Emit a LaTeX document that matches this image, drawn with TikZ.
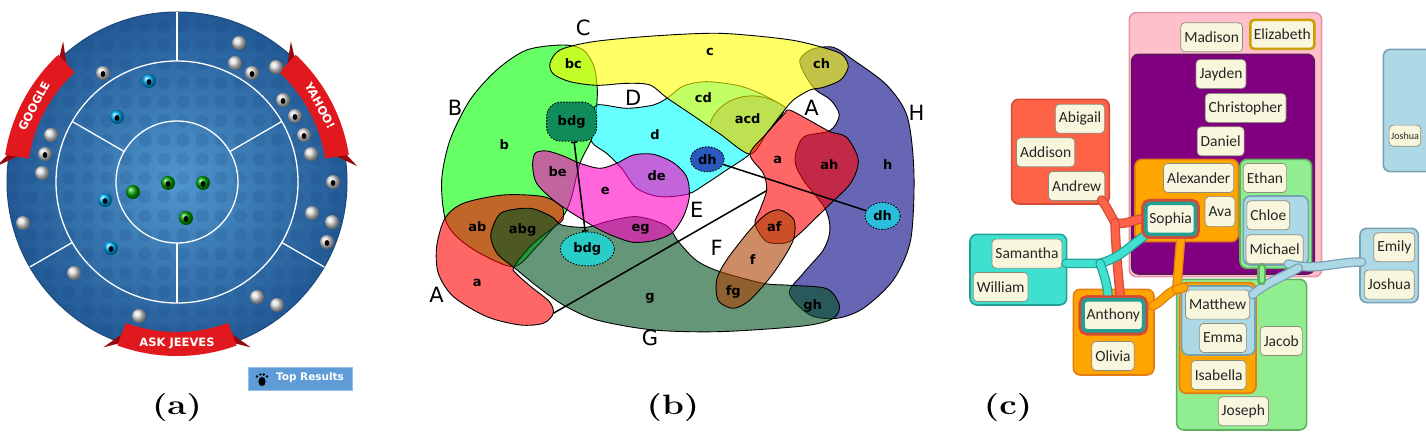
\documentclass[tikz,border=0pt]{standalone}
\usepackage{fontspec}
\setsansfont{DejaVu Sans}
\newfontfamily\namefont{Carlito}
\usetikzlibrary{fit,shapes.geometric,arrows.meta}

% panel (a)
\definecolor{discin}{RGB}{80,150,205}
\definecolor{discout}{RGB}{35,90,150}
\definecolor{discdot}{RGB}{20,70,130}
\definecolor{ribred}{RGB}{225,25,30}
\definecolor{ribdark}{RGB}{150,10,15}
\definecolor{topfill}{RGB}{95,155,215}
\definecolor{topline}{RGB}{150,190,230}
% panel (b)
\definecolor{setA}{RGB}{255,0,0}
\definecolor{setB}{RGB}{0,255,0}
\definecolor{setC}{RGB}{255,255,0}
\definecolor{setD}{RGB}{0,255,255}
\definecolor{setE}{RGB}{255,0,196}
\definecolor{setF}{RGB}{172,63,0}
\definecolor{setG}{RGB}{0,80,30}
\definecolor{setH}{RGB}{0,0,130}
\definecolor{acdunder}{RGB}{92,180,200}
\definecolor{bdgUc}{RGB}{16,140,90}
\definecolor{bdgLc}{RGB}{40,205,200}
\definecolor{dhUc}{RGB}{40,90,190}
\definecolor{dhRc}{RGB}{40,190,220}
% panel (c)
\definecolor{pinkfill}{RGB}{255,192,203}
\definecolor{pinkline}{RGB}{225,150,165}
\definecolor{purplefill}{RGB}{128,0,128}
\definecolor{purpleline}{RGB}{95,20,95}
\definecolor{orangefill}{RGB}{255,165,0}
\definecolor{orangeline}{RGB}{225,125,20}
\definecolor{greenfill}{RGB}{144,238,144}
\definecolor{greenline}{RGB}{95,175,95}
\definecolor{bluefill}{RGB}{173,216,230}
\definecolor{blueline}{RGB}{120,160,180}
\definecolor{redfill}{RGB}{255,99,71}
\definecolor{redline}{RGB}{210,75,55}
\definecolor{tealfill}{RGB}{64,224,208}
\definecolor{tealline}{RGB}{35,160,150}
\definecolor{goldline}{RGB}{200,160,0}
\definecolor{namefill}{RGB}{248,246,220}
\definecolor{nameline}{RGB}{140,140,125}

\tikzset{
  caplabel/.style={font=\fontsize{28}{32}\selectfont\bfseries, xscale=1.25},
  ringline/.style={draw=white, line width=1.3pt},
  ribtext/.style={text=white, font=\sffamily\bfseries\fontsize{11.5}{12}\selectfont, inner sep=0pt},
  setfill/.style={draw=black, line width=0.9pt, fill=#1, fill opacity=0.6},
  setlab/.style={font=\sffamily\fontsize{21}{21}\selectfont, inner sep=0pt},
  reglab/.style={font=\sffamily\bfseries\fontsize{13}{13}\selectfont, inner sep=0pt},
  marker/.style={draw=black, line width=0.9pt, dash pattern=on 1.5pt off 1.5pt, fill=#1,
    font=\sffamily\bfseries\fontsize{13}{13}\selectfont, inner sep=1pt},
  linkline/.style={line width=1.5pt},
  grp/.style={fill=#1fill, draw=#1line, line width=1.6pt, rounded corners=7pt, inner sep=0pt},
  band/.style={draw=#1fill, line width=7pt, line cap=round,
    preaction={draw=#1line, line width=9.5pt, line cap=round}},
  namebox/.style={draw=nameline, fill=namefill, line width=0.7pt, rounded corners=4pt,
    text=black!85, font=\namefont\fontsize{15.5}{15.5}\selectfont,
    inner xsep=3.5pt, inner ysep=0pt, minimum height=29pt},
  ringbox/.style={namebox, draw=tealline, line width=3.5pt, minimum height=31pt,
    preaction={draw=redline, line width=9pt}}
}

\begin{document}
\begin{tikzpicture}[x=1pt,y=-1pt]
\useasboundingbox (0,0) rectangle (1426,438);

% (a) search result rings %
\begin{scope}[shift={(177pt,-182pt)},x=1pt,y=1pt]
  \shade[inner color=discin, outer color=discout] (0,0) circle (170);
  \begin{scope}
    \clip (0,0) circle (168);
    \foreach \i in {-9,...,9}
      \foreach \j in {-9,...,9}
        \fill[discdot, opacity=0.17] (\i*19+6,\j*19+4) circle (6.5);
  \end{scope}
  \draw[discout!80!black, line width=1pt] (0,0) circle (170);
  \draw[ringline] (0,0) circle (121) (0,0) circle (61);
  \foreach \a in {90,210,330} \draw[ringline] (\a:121) -- (\a:170);
  \foreach \a in {30,150,270} \draw[ringline] (\a:61) -- (\a:121);
  % ribbons %
  \foreach \s/\e in {133/171, 9/47, -110/-70} {
    \fill[ribdark] (\s:172) -- ({\s-4}:181) -- ({\s+1}:158) -- cycle;
    \fill[ribdark] (\e:172) -- ({\e+4}:181) -- ({\e-1}:158) -- cycle;
    \fill[ribred] (\s:150) arc[start angle=\s, end angle=\e, radius=150]
      -- (\e:174) arc[start angle=\e, end angle=\s, radius=174] -- cycle;
  }
  \node[ribtext, rotate=62] (google) at (152:162) {GOOGLE};
  \node[ribtext, rotate=-62] (yahoo) at (28:162) {YAHOO!};
  \node[ribtext] (askjeeves) at (-90:161) {ASK JEEVES};
  % balls %
  \foreach \x/\y in {-74/109,-132/28,75/109,106/82,118/66,127/47,156/0,150/-60,
      -126/47,-135/9,-154/-41,-103/-91,-38/-134,62/139,58/119,99/115,134/28,135/-31,155/-40,80/-115,100/-123}
    \shade[ball color=white!75!gray] (\x,\y) circle (7);
  \foreach \x/\y in {-28/101,-60/65,-72/-18,-66/-66}
    \shade[ball color=cyan!70!blue] (\x,\y) circle (7);
  \foreach \x/\y in {-44/-10,-9/-1,26/-1,9/-36}
    \shade[ball color=green!65!black] (\x,\y) circle (7);
  \foreach \x/\y in {-74/109,-132/28,75/109,106/82,118/66,127/47,156/0,150/-60,
      -28/101,-60/65,-72/-18,-66/-66,-9/-1,26/-1,9/-36}
    \fill[black] (\x,\y-1) ellipse (2.4 and 3);
  % top results %
  \node[fill=topfill, draw=topline, line width=0.8pt, minimum width=104pt, minimum height=23pt] (topres) at (123,-197) {};
  \fill[black] (85,-199.5) ellipse (3.6 and 4.6);
  \foreach \k/\h in {-5/-194.5,-1.7/-192.5,1.7/-192.5,5/-194.5} \fill[black] (85+\k,\h) circle (1.3);
  \node[text=white, font=\sffamily\bfseries\fontsize{10.5}{10.5}\selectfont, inner sep=0pt] (toptext) at (133,-196) {Top Results};
\end{scope}

% (b) Euler diagram %
\begin{scope}[shift={(420pt,0pt)},x=0.3333pt,y=-0.3333pt]
  % Sets %
  \draw[setfill=setH] plot[smooth cycle] coordinates {(1185,268) (1150,215) (1140,178) (1175,148) (1240,142) (1300,180) (1400,255) (1462,350) (1482,520) (1472,720) (1420,840) (1330,925) (1250,955) (1170,945) (1108,880) (1150,820) (1210,750) (1230,690) (1215,625) (1150,540) (1125,480) (1150,412) (1230,392) (1258,345) (1232,300)};
  \draw[setfill=setB] plot[smooth cycle] coordinates {(430,135) (490,150) (522,200) (532,270) (528,340) (518,410) (480,490) (455,590) (435,640) (410,672) (350,740) (282,800) (180,760) (110,710) (75,655) (65,540) (90,420) (150,300) (230,210) (320,150)};
  \draw[setfill=setD] plot[smooth cycle] coordinates {(530,315) (620,325) (700,315) (745,292) (790,258) (860,245) (960,258) (1040,290) (1092,330) (1040,400) (990,462) (920,510) (860,550) (805,582) (720,590) (650,565) (605,505) (560,460) (515,425) (522,360)};
  \begin{scope}
    \clip plot[smooth cycle] coordinates {(390,190) (420,150) (520,125) (700,108) (900,100) (1100,118) (1200,140) (1265,163) (1285,200) (1262,240) (1210,262) (1170,270) (1120,300) (1090,335) (1040,400) (990,462) (900,402) (820,347) (740,293) (690,255) (620,250) (530,256) (450,245) (400,222)};
    \fill[acdunder] (870,372) .. controls (890,300) and (1000,250) .. (1100,325) -- (1200,330) -- (1100,560) -- (860,420) -- cycle;
    \draw[line width=0.9pt] (870,372) .. controls (890,300) and (1000,250) .. (1100,325);
  \end{scope}
  \draw[setfill=setC] plot[smooth cycle] coordinates {(390,190) (420,150) (520,125) (700,108) (900,100) (1100,118) (1200,140) (1265,163) (1285,200) (1262,240) (1210,262) (1170,270) (1120,300) (1090,335) (1040,400) (990,462) (900,402) (820,347) (740,293) (690,255) (620,250) (530,256) (450,245) (400,222)};
  \draw[setfill=setA] plot[smooth cycle] coordinates {(75,655) (130,610) (250,585) (370,590) (425,620) (430,650) (420,668) (340,730) (282,800) (290,822) (335,862) (388,905) (400,940) (370,970) (300,975) (200,950) (100,890) (55,820) (50,740)};
  \draw[setfill=setA] plot[smooth cycle] coordinates {(990,462) (1040,400) (1090,345) (1108,330) (1170,362) (1230,395) (1280,412) (1315,480) (1292,550) (1220,622) (1140,700) (1100,728) (1040,725) (1005,672) (1020,630) (1040,570) (1030,520)};
  \draw[setfill=setG] plot[smooth cycle] coordinates {(215,690) (245,638) (330,625) (395,650) (425,675) (500,682) (560,665) (650,650) (740,677) (775,725) (830,782) (900,815) (1030,850) (1110,856) (1220,866) (1258,915) (1240,955) (1150,978) (900,995) (700,990) (530,960) (430,915) (350,858) (285,805) (235,765) (215,725)};
  \draw[setfill=setE] plot[smooth cycle] coordinates {(345,460) (380,453) (430,468) (480,490) (540,505) (590,490) (640,465) (700,463) (760,488) (800,530) (808,590) (790,650) (755,700) (700,722) (640,727) (590,712) (540,690) (470,648) (400,600) (350,550) (338,500)};
  \draw[setfill=setF] plot[smooth cycle] coordinates {(1080,630) (1122,660) (1118,725) (1060,820) (990,900) (940,925) (895,902) (890,840) (920,780) (990,690) (1040,642)};

  % Links %
  \coordinate (aLeft) at (400,940);
  \coordinate (aRight) at (1040,572);
  \draw[linkline] (aLeft) -- (aRight);
  \node[marker=bdgUc, rounded corners=14pt, minimum width=50pt, minimum height=39pt] (bdgU) at (455,365) {bdg};
  \node[marker=bdgLc, ellipse, minimum width=54pt, minimum height=34pt] (bdgL) at (502,747) {bdg};
  \node[marker=dhUc, ellipse, minimum width=34pt, minimum height=25pt] (dhU) at (862,478) {dh};
  \node[marker=dhRc, ellipse, minimum width=35pt, minimum height=27pt] (dhR) at (1388,648) {dh};
  \draw[linkline, {Bar[width=6pt]}-{Bar[width=6pt]}] (bdgU) -- (bdgL);
  \draw[linkline] (dhU) -- (dhR);

  % Region labels %
  \node[reglab] (rbc) at (460,190) {bc};
  \node[reglab] (rc) at (870,155) {c};
  \node[reglab] (rch) at (1205,190) {ch};
  \node[reglab] (rcd) at (850,293) {cd};
  \node[reglab] (racd) at (983,355) {acd};
  \node[reglab] (rb) at (253,435) {b};
  \node[reglab] (rd) at (705,405) {d};
  \node[reglab] (ra1) at (1073,480) {a};
  \node[reglab] (rah) at (1228,495) {ah};
  \node[reglab] (rh) at (1403,495) {h};
  \node[reglab] (rbe) at (413,515) {be};
  \node[reglab] (rde) at (710,528) {de};
  \node[reglab] (re) at (556,572) {e};
  \node[reglab] (rab) at (172,680) {ab};
  \node[reglab] (rabg) at (308,690) {abg};
  \node[reglab] (reg) at (662,688) {eg};
  \node[reglab] (raf) at (1063,680) {af};
  \node[reglab] (rf) at (998,780) {f};
  \node[reglab] (ra2) at (172,848) {a};
  \node[reglab] (rg) at (690,895) {g};
  \node[reglab] (rfg) at (940,875) {fg};
  \node[reglab] (rgh) at (1178,918) {gh};

  % Set names %
  \node[setlab] (nC) at (490,85) {C};
  \node[setlab] (nB) at (105,325) {B};
  \node[setlab] (nD) at (640,295) {D};
  \node[setlab] (nA1) at (1175,325) {A};
  \node[setlab] (nH) at (1490,340) {H};
  \node[setlab] (nE) at (830,630) {E};
  \node[setlab] (nF) at (890,745) {F};
  \node[setlab] (nA2) at (50,885) {A};
  \node[setlab] (nG) at (690,1015) {G};
\end{scope}

% (c) bubble sets %
\begin{scope}[shift={(960pt,0pt)},x=0.3333pt,y=-0.3333pt]
  % Groups %
  \node[grp=pink, fit={(508,38)(1085,830)}] (gPink) {};
  \node[grp=purple, fit={(515,163)(1063,822)}] (gPurple) {};
  \node[grp=orange, fit={(525,478)(835,725)}] (gAlexander) {};
  \node[grp=green, fit={(840,478)(1055,805)}] (gEthan) {};
  \node[grp=blue, fit={(850,588)(1045,795)}] (gChloe) {};
  \node[grp=red, fit={(155,298)(448,612)}] (gAbigail) {};
  \node[grp=teal, fit={(30,703)(320,915)}] (gSamantha) {};
  \node[grp=orange, fit={(340,868)(582,1125)}] (gAnthony) {};
  \node[grp=green, fit={(650,838)(1040,1290)}] (gJacob) {};
  \node[grp=orange, fit={(658,848)(888,1180)}] (gIsabella) {};
  \node[grp=blue, fit={(665,858)(885,1065)}] (gMatthew) {};
  \node[grp=blue, fit={(1200,685)(1375,908)}] (gEmily) {};
  \node[grp=blue, fit={(1270,148)(1460,515)}] (gJoshua) {};

  % Names %
  \node[namebox] (madison) at (755,112) {Madison};
  \node[namebox, draw=goldline, line width=2.5pt] (elizabeth) at (967,103) {Elizabeth};
  \node[namebox] (jayden) at (783,222) {Jayden};
  \node[namebox] (christopher) at (857,324) {Christopher};
  \node[namebox] (daniel) at (782,424) {Daniel};
  \node[namebox] (alexander) at (716,534) {Alexander};
  \node[namebox, minimum height=30pt] (ava) at (780,635) {Ava};
  \node[namebox] (ethan) at (915,534) {Ethan};
  \node[namebox] (chloe) at (925,646) {Chloe};
  \node[namebox] (michael) at (944,748) {Michael};
  \node[namebox] (abigail) at (360,356) {Abigail};
  \node[namebox] (addison) at (257,457) {Addison};
  \node[namebox] (andrew) at (350,558) {Andrew};
  \node[namebox] (samantha) at (201,761) {Samantha};
  \node[namebox] (william) at (122,861) {William};
  \node[namebox] (olivia) at (459,1068) {Olivia};
  \node[namebox] (matthew) at (773,914) {Matthew};
  \node[namebox] (emma) at (789,1014) {Emma};
  \node[namebox] (isabella) at (776,1125) {Isabella};
  \node[namebox] (jacob) at (964,1023) {Jacob};
  \node[namebox] (joseph) at (850,1234) {Joseph};
  \node[namebox] (emily) at (1303,742) {Emily};
  \node[namebox] (joshua) at (1288,854) {Joshua};
  \node[namebox, font=\namefont\fontsize{10}{10}\selectfont, minimum height=21pt, inner xsep=2pt] (joshuaS) at (1335,407) {Joshua};

  % Bands %
  \coordinate (rTop) at (425,600);
  \coordinate (rJoin) at (465,668);
  \coordinate (tLeft) at (318,790);
  \coordinate (tJoin) at (420,790);
  \coordinate (oTop) at (662,718);
  \coordinate (oJoin) at (650,868);
  \coordinate (oLeft) at (578,918);
  \coordinate (oRight) at (672,862);
  \coordinate (bTop) at (985,792);
  \coordinate (bJoin) at (1015,804);
  \coordinate (bRight) at (1205,786);
  \coordinate (bDown) at (878,884);
  \coordinate (gUp) at (905,803);
  \coordinate (gDown) at (905,842);
  \node[ringbox] (sophia) at (632,657) {Sophia};
  \node[ringbox] (anthony) at (460,946) {Anthony};
  \draw[band=red] (rTop) to[out=-55,in=120] (rJoin) to[out=-15,in=180] (sophia.west);
  \draw[band=red] (rJoin) to[out=-88,in=95] ([xshift=7pt]anthony.north);
  \draw[band=teal] (tLeft) to[out=0,in=180] (tJoin) to[out=15,in=-145] (sophia.south west);
  \draw[band=teal] (tJoin) to[out=-70,in=95] ([xshift=-5pt]anthony.north);
  \draw[band=orange] (oTop) to[out=-95,in=85] (oJoin) to[out=-160,in=25] (oLeft);
  \draw[band=orange] (oJoin) to[out=-20,in=180] (oRight);
  \draw[band=blue] (bTop) to[out=-15,in=180] (bRight);
  \draw[band=blue] (bJoin) to[out=-150,in=40] (bDown);
  \draw[band=green, line width=4pt] (gUp) -- (gDown);
  \node[ringbox] at (sophia) {Sophia};
  \node[ringbox] at (anthony) {Anthony};
\end{scope}

% Captions %
\node[caplabel] (capa) at (177,408) {(a)};
\node[caplabel] (capb) at (673,408) {(b)};
\node[caplabel] (capc) at (1008,408) {(c)};
\end{tikzpicture}
\end{document}
